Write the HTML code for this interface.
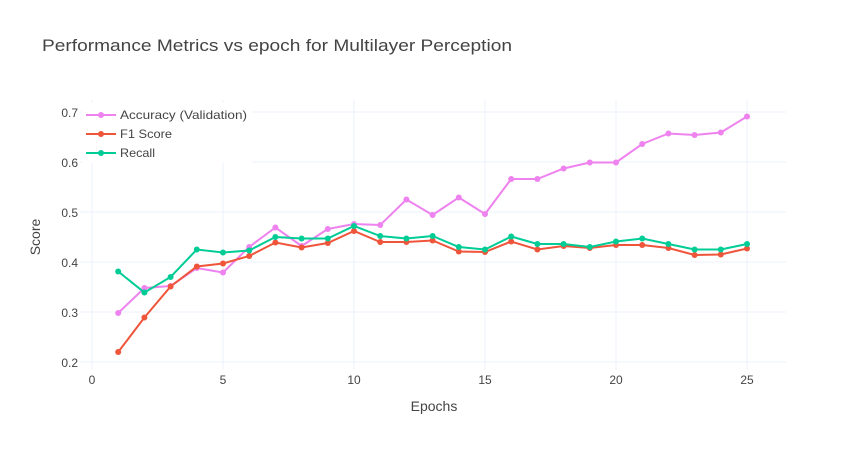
<!DOCTYPE html>
<html><head><meta charset="utf-8"><style>
body{margin:0;background:#fff;font-family:"Liberation Sans",Arial,sans-serif}
svg text{font-family:"Liberation Sans",Arial,sans-serif}
</style></head><body>
<svg id="chart" width="866" height="450" xmlns="http://www.w3.org/2000/svg">
<rect width="866" height="450" fill="#fff"/>
<text x="42" y="51" font-size="17" fill="#444" textLength="470" lengthAdjust="spacingAndGlyphs">Performance Metrics vs epoch for Multilayer Perception</text>
<g id="grid"></g><g id="series"></g><g id="axes"></g>
<text x="434" y="411" font-size="14" fill="#444" text-anchor="middle">Epochs</text>
<text transform="translate(40,237) rotate(-90)" font-size="14" fill="#444" text-anchor="middle">Score</text>
<g id="legend"></g>
</svg>
<script>
const epochs=[1,2,3,4,5,6,7,8,9,10,11,12,13,14,15,16,17,18,19,20,21,22,23,24,25];
const accuracy=[0.298,0.348,0.352,0.388,0.379,0.430,0.469,0.432,0.466,0.476,0.474,0.525,0.494,0.529,0.496,0.566,0.566,0.587,0.599,0.599,0.636,0.657,0.654,0.659,0.691];
const f1=[0.220,0.289,0.351,0.391,0.397,0.412,0.439,0.429,0.438,0.462,0.440,0.440,0.443,0.421,0.420,0.441,0.425,0.432,0.428,0.434,0.434,0.428,0.414,0.415,0.427];
const recall=[0.381,0.339,0.370,0.425,0.419,0.423,0.450,0.447,0.447,0.472,0.452,0.447,0.452,0.430,0.425,0.451,0.436,0.436,0.430,0.441,0.447,0.436,0.425,0.425,0.436];
const xTicks=[0,5,10,15,20,25];
const yTicks=[0.2,0.3,0.4,0.5,0.6,0.7];
const seriesNames=["Accuracy (Validation)","F1 Score","Recall"];
const legendWidths=[127,52,35];
const colors=["#ee82ee","#ef553b","#00cc96"];
const NS="http://www.w3.org/2000/svg";
const X=v=>92+v*26.2, Y=v=>362-(v-0.2)*500;
function mk(t,a,p){const e=document.createElementNS(NS,t);for(const k in a)e.setAttribute(k,a[k]);p.appendChild(e);return e;}
const grid=document.getElementById('grid'),axes=document.getElementById('axes'),ser=document.getElementById('series'),leg=document.getElementById('legend');
xTicks.forEach(t=>{const l=mk('line',{x1:X(t),x2:X(t),y1:100,y2:370,stroke:'#ebf0f8'},grid);

const tx=mk('text',{x:X(t),y:384,'font-size':12,fill:'#444','text-anchor':'middle'},axes);tx.textContent=t;
});
yTicks.forEach(t=>{const l=mk('line',{x1:80,x2:786,y1:Y(t),y2:Y(t),stroke:'#ebf0f8'},grid);

const tx=mk('text',{x:78,y:Y(t)+5,'font-size':12,fill:'#444','text-anchor':'end'},axes);tx.textContent=t.toFixed(1);
});
[accuracy,f1,recall].forEach((d,i)=>{const g=mk('g',{},ser);

const p=mk('polyline',{points:d.map((v,j)=>X(epochs[j])+','+Y(v)).join(' '),fill:'none',stroke:colors[i],'stroke-width':2},g);

d.forEach((v,j)=>{const c=mk('circle',{cx:X(epochs[j]),cy:Y(v),r:3,fill:colors[i]},g);
});});
const lb=mk('rect',{x:82,y:103,width:170,height:60,fill:'#fff'},leg);

seriesNames.forEach((n,i)=>{const y=115+i*19;const g=mk('g',{},leg);

mk('line',{x1:86,x2:116,y1:y,y2:y,stroke:colors[i],'stroke-width':2},g);
mk('circle',{cx:101,cy:y,r:3,fill:colors[i]},g);
const t=mk('text',{x:120,y:y+4,'font-size':12,fill:'#444',textLength:legendWidths[i],lengthAdjust:'spacingAndGlyphs'},g);t.textContent=n;});
</script>
</body></html>
